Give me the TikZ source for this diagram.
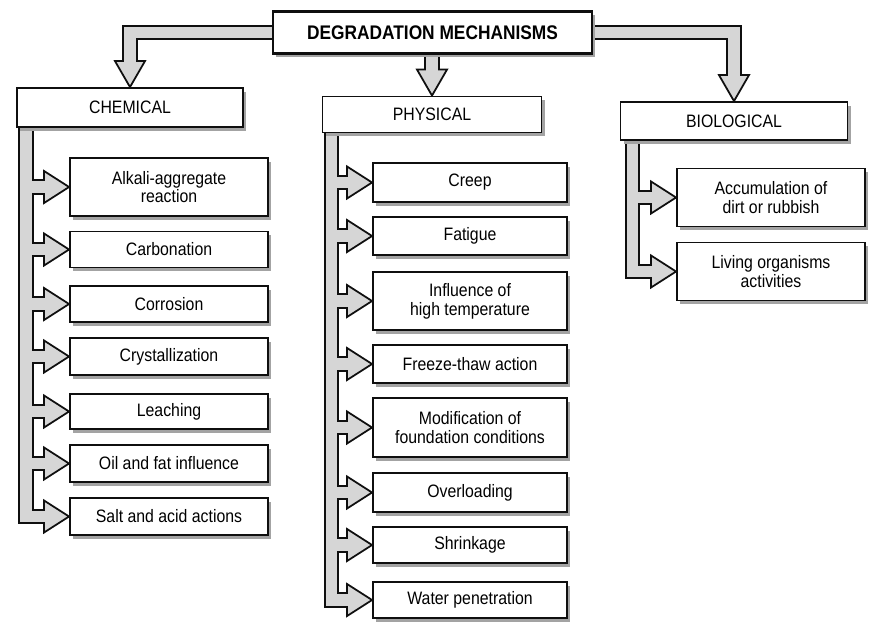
\documentclass[tikz,border=0pt]{standalone}
\usepackage{fontspec}
\setmainfont{Liberation Sans}[FakeStretch=0.88]
\usetikzlibrary{positioning,calc,shadows,backgrounds}
\definecolor{BoxInk}{gray}{0.06}
\definecolor{BandFill}{gray}{0.84}
\definecolor{ShadowFill}{gray}{0.64}
% one branch of a band: from a trunk line to the left side of a box
\newcommand{\BandPath}[3]{%
  \draw[#1] (#2 |- #3.west) -- ($(#3.west)+(-24,0)$);%
}
\newcommand{\SideHead}[1]{%
  \draw[headline] ($(#1.west)+(-25,-16)$) -- (#1.west) -- ($(#1.west)+(-25,16)$) -- cycle;%
}
\newcommand{\DownHead}[1]{%
  \draw[headline] ($(#1.north)+(-15,-26)$) -- (#1.north) -- ($(#1.north)+(15,-26)$) -- cycle;%
}

\begin{document}
\begin{tikzpicture}[
  x=0.025cm,y=-0.025cm,
  every node/.style={font=\fontsize{12.8}{13.4}\selectfont},
  mainbox/.style={draw=BoxInk,line width=1.3pt,fill=white,align=center,inner sep=0pt,
                  drop shadow={shadow xshift=0.08cm,shadow yshift=-0.09cm,fill=ShadowFill,opacity=1}},
  chembox/.style={mainbox,minimum width=4.95cm},
  physbox/.style={mainbox,minimum width=4.85cm},
  biobox/.style={mainbox,minimum width=4.7cm},
  bandedge/.style={draw=BoxInk,line width=10.9pt,line join=miter},
  bandcore/.style={draw=BandFill,line width=8.4pt,line join=miter},
  headline/.style={draw=BoxInk,fill=BandFill,line width=1.25pt,line join=miter},
]
  \useasboundingbox (0,0) rectangle (869,621);

  \node[mainbox,minimum width=7.975cm,minimum height=1.05cm,line width=1.5pt,
        font=\fontsize{14}{16}\selectfont\bfseries] (top) at (432.5,32.5) {DEGRADATION MECHANISMS};

  \node[mainbox,minimum width=5.65cm,minimum height=0.975cm] (chem) at (130,107.5) {CHEMICAL};
  \node[mainbox,minimum width=5.475cm,minimum height=0.9cm] (phys) at (432,114.5) {PHYSICAL};
  \node[mainbox,minimum width=5.675cm,minimum height=0.95cm] (bio) at (734,121) {BIOLOGICAL};

  \foreach \name/\ypos/\tall/\label in {
      alkali/187/1.45/{Alkali-aggregate\\reaction},
      carbonation/249.5/0.9/Carbonation,
      corrosion/304/0.9/Corrosion,
      crystal/356.5/0.92/Crystallization,
      leaching/411.5/0.88/Leaching,
      oilfat/463.5/0.92/Oil and fat influence,
      saltacid/516.5/0.92/Salt and acid actions}
    \node[chembox,minimum height=\tall cm] (\name) at (169,\ypos) {\label};

  \foreach \name/\ypos/\tall/\label in {
      creep/182.5/0.97/Creep,
      fatigue/236/0.95/Fatigue,
      influence/301/1.45/{Influence of\\high temperature},
      freeze/364/0.95/Freeze-thaw action,
      modif/427.5/1.47/{Modification of\\foundation conditions},
      overload/492.5/0.97/Overloading,
      shrink/545/0.9/Shrinkage,
      water/600/0.9/Water penetration}
    \node[physbox,minimum height=\tall cm] (\name) at (470,\ypos) {\label};

  \foreach \name/\ypos/\label in {
      accum/197.5/{Accumulation of\\dirt or rubbish},
      living/271.5/{Living organisms\\activities}}
    \node[biobox,minimum height=1.45cm] (\name) at (771,\ypos) {\label};

  \coordinate (chemtrunk) at ($(chem.south west)+(10,0)$);
  \coordinate (phystrunk) at ($(phys.south west)+(10,0)$);
  \coordinate (biotrunk) at ($(bio.south west)+(13,0)$);

  \begin{pgfonlayer}{background}
    % outlines of the bands
    \draw[bandedge] ($(top.west)+(6,0)$) -- (chem.north |- top.west) -- ($(chem.north)+(0,-24)$);
    \draw[bandedge] ($(top.east)+(-6,0)$) -- (bio.north |- top.east) -- ($(bio.north)+(0,-24)$);
    \draw[bandedge] ($(phys.north |- top.south)+(0,-6)$) -- ($(phys.north)+(0,-24)$);
    \draw[bandedge] (chemtrunk) -- (chemtrunk |- saltacid.west) -- ($(saltacid.west)+(-24,0)$);
    \draw[bandedge] (phystrunk) -- (phystrunk |- water.west) -- ($(water.west)+(-24,0)$);
    \draw[bandedge] (biotrunk) -- (biotrunk |- living.west) -- ($(living.west)+(-24,0)$);
    \foreach \name in {alkali,carbonation,corrosion,crystal,leaching,oilfat}
      {\BandPath{bandedge}{chemtrunk}{\name}}
    \foreach \name in {creep,fatigue,influence,freeze,modif,overload,shrink}
      {\BandPath{bandedge}{phystrunk}{\name}}
    \BandPath{bandedge}{biotrunk}{accum}

    % arrow heads
    \DownHead{chem}
    \DownHead{phys}
    \DownHead{bio}
    \foreach \name in {alkali,carbonation,corrosion,crystal,leaching,oilfat,saltacid,
                       creep,fatigue,influence,freeze,modif,overload,shrink,water,accum,living}
      {\SideHead{\name}}

    % inner fill of the bands
    \draw[bandcore] ($(top.west)+(6,0)$) -- (chem.north |- top.west) -- ($(chem.north)+(0,-24)$);
    \draw[bandcore] ($(top.east)+(-6,0)$) -- (bio.north |- top.east) -- ($(bio.north)+(0,-24)$);
    \draw[bandcore] ($(phys.north |- top.south)+(0,-6)$) -- ($(phys.north)+(0,-24)$);
    \draw[bandcore] (chemtrunk) -- (chemtrunk |- saltacid.west) -- ($(saltacid.west)+(-24,0)$);
    \draw[bandcore] (phystrunk) -- (phystrunk |- water.west) -- ($(water.west)+(-24,0)$);
    \draw[bandcore] (biotrunk) -- (biotrunk |- living.west) -- ($(living.west)+(-24,0)$);
    \foreach \name in {alkali,carbonation,corrosion,crystal,leaching,oilfat}
      {\BandPath{bandcore}{chemtrunk}{\name}}
    \foreach \name in {creep,fatigue,influence,freeze,modif,overload,shrink}
      {\BandPath{bandcore}{phystrunk}{\name}}
    \BandPath{bandcore}{biotrunk}{accum}
  \end{pgfonlayer}
\end{tikzpicture}
\end{document}
